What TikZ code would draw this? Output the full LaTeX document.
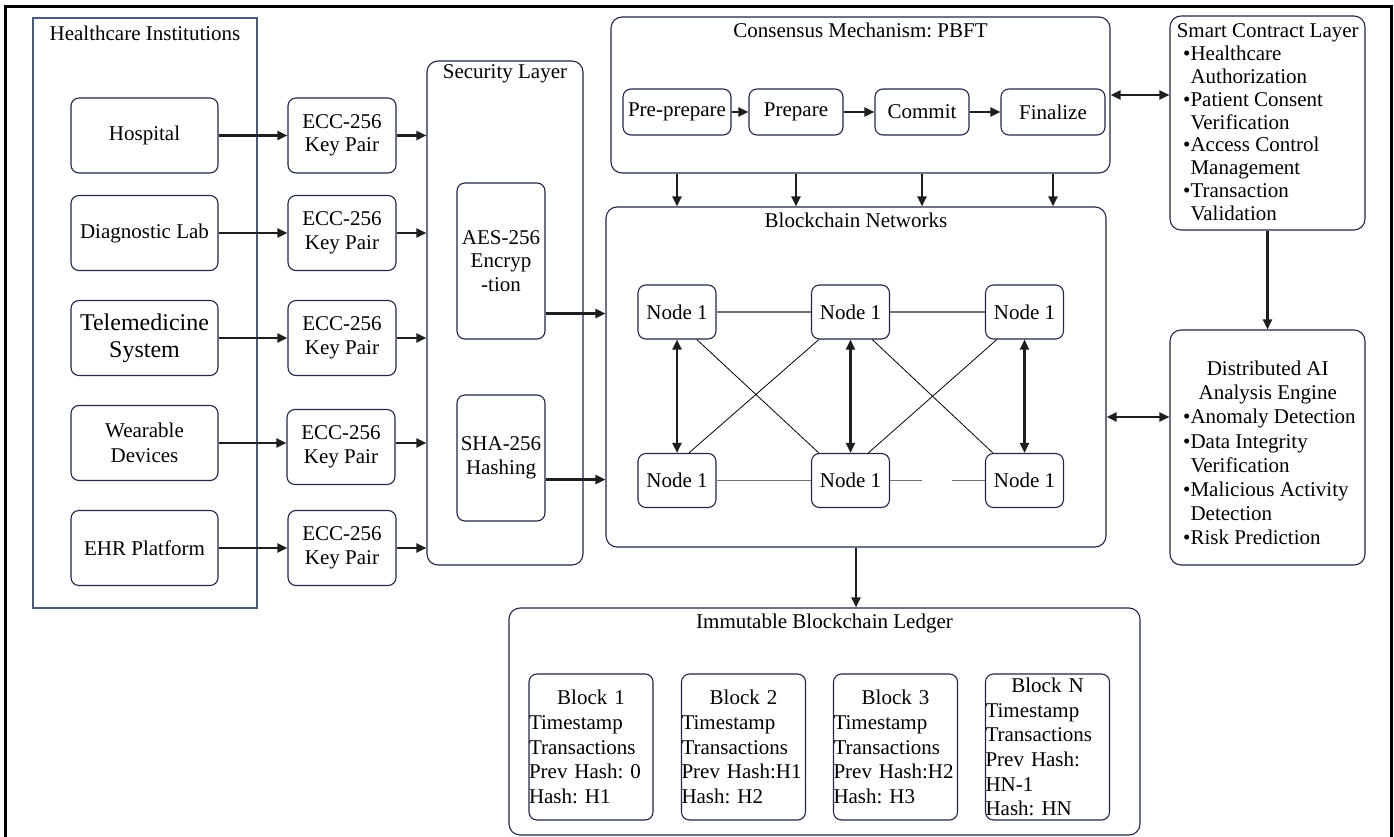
\documentclass[tikz,border=0pt]{standalone}
\usepackage{fontspec}
\setmainfont{Liberation Serif}
\usetikzlibrary{calc,arrows.meta}
\definecolor{navy}{HTML}{1F2846}
\definecolor{slate}{HTML}{4A5A78}
\definecolor{netgray}{HTML}{707070}
\definecolor{arrowcol}{HTML}{1E1E1E}
\frenchspacing
\begin{document}
\frenchspacing
\begin{tikzpicture}[x=1pt,y=-1pt,
  font=\fontsize{21}{23.5}\selectfont,
  box/.style={draw=navy, line width=1.1pt, rounded corners=8pt, align=center, inner sep=0pt},
  bigbox/.style={box, rounded corners=11pt},
  lbl/.style={inner sep=0pt},
  arr/.style={draw=arrowcol, line width=2.2pt, -{Triangle[length=10pt,width=9pt]}},
  darr/.style={draw=arrowcol, line width=2.2pt, {Triangle[length=10pt,width=9pt]}-{Triangle[length=10pt,width=9pt]}},
  netline/.style={draw=netgray, line width=1.1pt},
  diag/.style={draw=black, line width=0.8pt},
  blk/.style={box, minimum width=124pt, minimum height=146pt, text width=124pt, align=left, font=\fontsize{21}{24.6}\selectfont},
  src/.style={box, minimum width=147pt, minimum height=75pt},
  ecc/.style={box, minimum width=108pt, minimum height=75pt},
  nd/.style={box, minimum width=78pt, minimum height=54pt},
  phase/.style={box, minimum height=46pt},
  list/.style={anchor=north west, align=left, inner sep=0pt, font=\fontsize{21}{22.8}\selectfont}
]
\useasboundingbox (0,0) rectangle (1394,837);
\draw[line width=3pt] (5,6.5) rectangle (1391,850);

% Healthcare institutions
\node[draw=slate, line width=1.1pt, minimum width=224pt, minimum height=590pt, inner sep=0pt] (hc) at (145,313) {};
\node[lbl] (hct) at (145,33) {Healthcare Institutions};
\node[src] (hosp) at (144.5,135.5) {Hospital};
\node[src] (diag) at (144.5,233) {Diagnostic Lab};
\node[src, font=\fontsize{24}{27}\selectfont] (tele) at (144.5,338) {Telemedicine\\System};
\node[src, font=\fontsize{21}{25}\selectfont] (wear) at (144.5,443) {Wearable\\Devices};
\node[src] (ehr) at (144.5,548) {EHR Platform};

\node[ecc] (ecc1) at (342,135.5) {ECC-256\\Key Pair};
\node[ecc] (ecc2) at (342,233) {ECC-256\\Key Pair};
\node[ecc] (ecc3) at (342,338) {ECC-256\\Key Pair};
\node[ecc] (ecc4) at (341,447) {ECC-256\\Key Pair};
\node[ecc] (ecc5) at (342,548) {ECC-256\\Key Pair};

% Security layer
\node[bigbox, minimum width=156pt, minimum height=504pt] (sec) at (505,313) {};
\node[lbl] (sect) at (505,74) {Security Layer};
\node[box, minimum width=88pt, minimum height=156pt] (aes) at (501,261) {AES-256\\Encryp\\-tion};
\node[box, minimum width=88pt, minimum height=126pt] (sha) at (501,458) {SHA-256\\Hashing};

\foreach \s/\e in {hosp/ecc1,diag/ecc2,tele/ecc3,wear/ecc4,ehr/ecc5}{
  \draw[arr] (\s.east) -- (\s.east -| \e.west);
  \draw[arr] (\s.east -| \e.east) -- (\s.east -| sec.west);
}

% PBFT
\node[bigbox, minimum width=499pt, minimum height=156pt] (pbft) at (860.5,95) {};
\node[lbl] (pbftt) at (860.5,30) {Consensus Mechanism: PBFT};
\node[phase, minimum width=108pt] (pre) at (677,112) {Pre-prepare};
\node[phase, minimum width=94pt] (prep) at (796,112) {Prepare};
\node[phase, minimum width=94pt] (comm) at (922,112) {Commit};
\node[phase, minimum width=104pt] (fin) at (1053,112) {Finalize};
\draw[arr] (pre.east) -- (prep.west);
\draw[arr] (prep.east) -- (comm.west);
\draw[arr] (comm.east) -- (fin.west);

% Blockchain network
\node[bigbox, minimum width=500pt, minimum height=340pt] (net) at (856,377) {};
\node[lbl] (nett) at (856,220) {Blockchain Networks};
\node[nd] (n11) at (677,312) {Node 1};
\node[nd] (n12) at (850.5,312) {Node 1};
\node[nd] (n13) at (1024.5,312) {Node 1};
\node[nd] (n21) at (677,480.5) {Node 1};
\node[nd] (n22) at (850.5,480.5) {Node 1};
\node[nd] (n23) at (1024.5,480.5) {Node 1};

\foreach \p in {pre,prep,comm,fin}{
  \draw[arr] (\p |- pbft.south) -- (\p |- net.north);
}

\draw[netline] (n11.east) -- (n12.west);
\draw[netline] (n12.east) -- (n13.west);
\draw[netline] (n21.east) -- (n22.west);
\coordinate (ga) at ($(n22.east)!0.34!(n23.west)$);
\coordinate (gb) at ($(n22.east)!0.65!(n23.west)$);
\draw[netline] (n22.east) -- (ga);
\draw[netline] (gb) -- (n23.west);

\draw[diag] ($(n11.south)!0.5!(n11.south east)$) -- ($(n22.north)!0.8!(n22.north west)$);
\draw[diag] ($(n12.south)!0.8!(n12.south west)$) -- ($(n21.north)!0.3!(n21.north east)$);
\draw[diag] ($(n12.south)!0.55!(n12.south east)$) -- ($(n23.north)!0.8!(n23.north west)$);
\draw[diag] ($(n13.south)!0.7!(n13.south west)$) -- ($(n22.north)!0.45!(n22.north east)$);

\draw[darr] (n11.south) -- (n21.north);
\draw[darr] (n12.south) -- (n22.north);
\draw[darr] (n13.south) -- (n23.north);

\coordinate (aesout) at ($(aes.south east)+(0,-26)$);
\coordinate (shaout) at ($(sha.south east)+(0,-42)$);
\draw[arr] (aesout) -- (aesout -| net.west);
\draw[arr] (shaout) -- (shaout -| net.west);

% Smart contract layer
\node[bigbox, minimum width=195pt, minimum height=214pt] (smart) at (1267.5,123) {};
\node[list] (smartl) at (1183,23.7) {\makebox[169pt]{Smart Contract Layer}\\
\textbullet Healthcare\\\hphantom{\textbullet}Authorization\\
\textbullet Patient Consent\\\hphantom{\textbullet}Verification\\
\textbullet Access Control\\\hphantom{\textbullet}Management\\
\textbullet Transaction\\\hphantom{\textbullet}Validation};

% AI engine
\node[bigbox, minimum width=195pt, minimum height=235pt] (ai) at (1267.5,447.5) {};
\node[list, font=\fontsize{21}{24.2}\selectfont] (ail) at (1183,360.7) {\makebox[169pt]{Distributed AI}\\
\makebox[169pt]{Analysis Engine}\\
\textbullet Anomaly Detection\\
\textbullet Data Integrity\\\hphantom{\textbullet}Verification\\
\textbullet Malicious Activity\\\hphantom{\textbullet}Detection\\
\textbullet Risk Prediction};

\draw[darr] (pbft.east) -- (pbft.east -| smart.west);
\draw[arr] (smart.south) -- (ai.north);
\coordinate (netai) at ($(net.east)+(0,40)$);
\draw[darr] (netai) -- (netai -| ai.west);

% Ledger
\node[bigbox, minimum width=631pt, minimum height=227pt] (led) at (824.5,721.5) {};
\node[lbl] (ledt) at (824.5,623) {Immutable Blockchain Ledger};
\draw[arr] (net.south) -- (net.south |- led.north);
\node[blk] (b1) at (591,747) {\makebox[124pt]{Block 1}\\Timestamp\\Transactions\\Prev Hash: 0\\Hash: H1};
\node[blk] (b2) at (743.5,747) {\makebox[124pt]{Block 2}\\Timestamp\\Transactions\\Prev Hash:H1\\Hash: H2};
\node[blk] (b3) at (895.5,747) {\makebox[124pt]{Block 3}\\Timestamp\\Transactions\\Prev Hash:H2\\Hash: H3};
\node[blk] (bn) at (1047.5,747) {\makebox[124pt]{Block N}\\Timestamp\\Transactions\\Prev Hash:\\HN-1\\Hash: HN};
\end{tikzpicture}
\end{document}
